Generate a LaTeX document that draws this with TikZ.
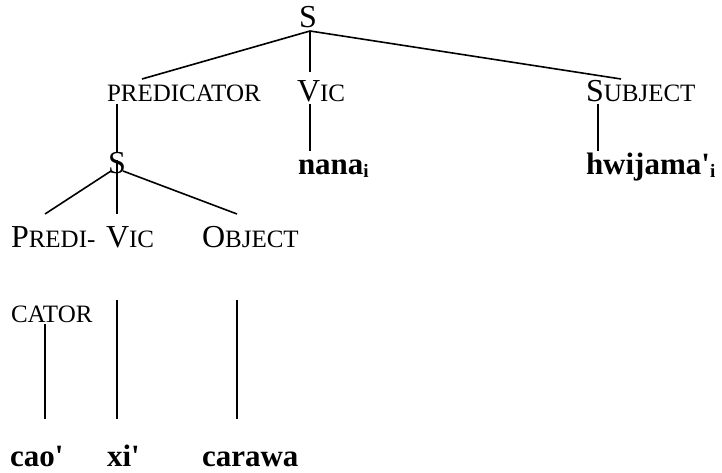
\documentclass[tikz,border=0pt]{standalone}
\usepackage{fontspec}
\setmainfont{Liberation Serif}
\newcommand{\bigfs}{\fontsize{32}{32}\selectfont}
\newcommand{\smfs}{\fontsize{25}{25}\selectfont}
\newcommand{\lbl}[2]{{\bigfs #1}{\smfs #2}}
\newcommand{\idx}{{\fontsize{19}{19}\selectfont\raisebox{-3pt}{\textbf{i}}}}
\newcommand{\apos}{\textquotesingle}
\begin{document}
\begin{tikzpicture}[x=1pt,y=-1pt,
  lab/.style={anchor=base west,inner sep=0pt,outer sep=0pt},
  word/.style={anchor=base west,inner sep=0pt,outer sep=0pt,font=\fontsize{31}{31}\selectfont\bfseries},
  edge/.style={line width=1.6pt}]
\useasboundingbox (0,0) rectangle (722,473);
% nodes
\node[lab] (s0) at (299,28) {\bigfs S};
\node[lab] (pred) at (107,102) {\lbl{}{PREDICATOR}};
\node[lab] (vic1) at (297,102) {\lbl{V}{IC}};
\node[lab] (subj) at (586,102) {\lbl{S}{UBJECT}};
\node[word] (nana) at (298,175) {nana\idx};
\node[word] (hwij) at (586,175) {hwijama\apos\idx};
\node[lab] (s1) at (108,174) {\bigfs S};
\node[lab] (predi) at (11,247) {\lbl{P}{REDI-}};
\node[lab] (vic2) at (106,247) {\lbl{V}{IC}};
\node[lab] (obj) at (202,247) {\lbl{O}{BJECT}};
\node[lab] (cator) at (11,322) {\lbl{}{CATOR}};
\node[word] (cao) at (10,466) {cao\apos};
\node[word] (xi) at (107,466) {xi\apos};
\node[word] (cara) at (202,466) {carawa};
% connector ends
\coordinate (s0b) at (310,31);
\coordinate (predt) at (142,79);
\coordinate (vic1t) at (310,72);
\coordinate (subjt) at (621,79);
\coordinate (predb) at (117,104);
\coordinate (s1t) at (117,152);
\coordinate (s1m) at (117,160);
\coordinate (s1l) at (111,171);
\coordinate (s1r) at (123,171);
\coordinate (predit) at (45,214);
\coordinate (vic2t) at (117,214);
\coordinate (objt) at (237,214);
\coordinate (vic1b) at (310,104);
\coordinate (nanat) at (310,151);
\coordinate (subjb) at (598,104);
\coordinate (hwijt) at (598,151);
\coordinate (catorb) at (45,324);
\coordinate (vic2b) at (117,300);
\coordinate (objb) at (237,300);
\coordinate (caot) at (45,419);
\coordinate (xit) at (117,419);
\coordinate (carat) at (237,419);
% connectors
\draw[edge] (s0b) -- (predt);
\draw[edge] (s0b) -- (vic1t);
\draw[edge] (s0b) -- (subjt);
\draw[edge] (predb) -- (s1t);
\draw[edge] (vic1b) -- (nanat);
\draw[edge] (subjb) -- (hwijt);
\draw[edge] (s1l) -- (predit);
\draw[edge] (s1m) -- (vic2t);
\draw[edge] (s1r) -- (objt);
\draw[edge] (catorb) -- (caot);
\draw[edge] (vic2b) -- (xit);
\draw[edge] (objb) -- (carat);
\end{tikzpicture}
\end{document}
